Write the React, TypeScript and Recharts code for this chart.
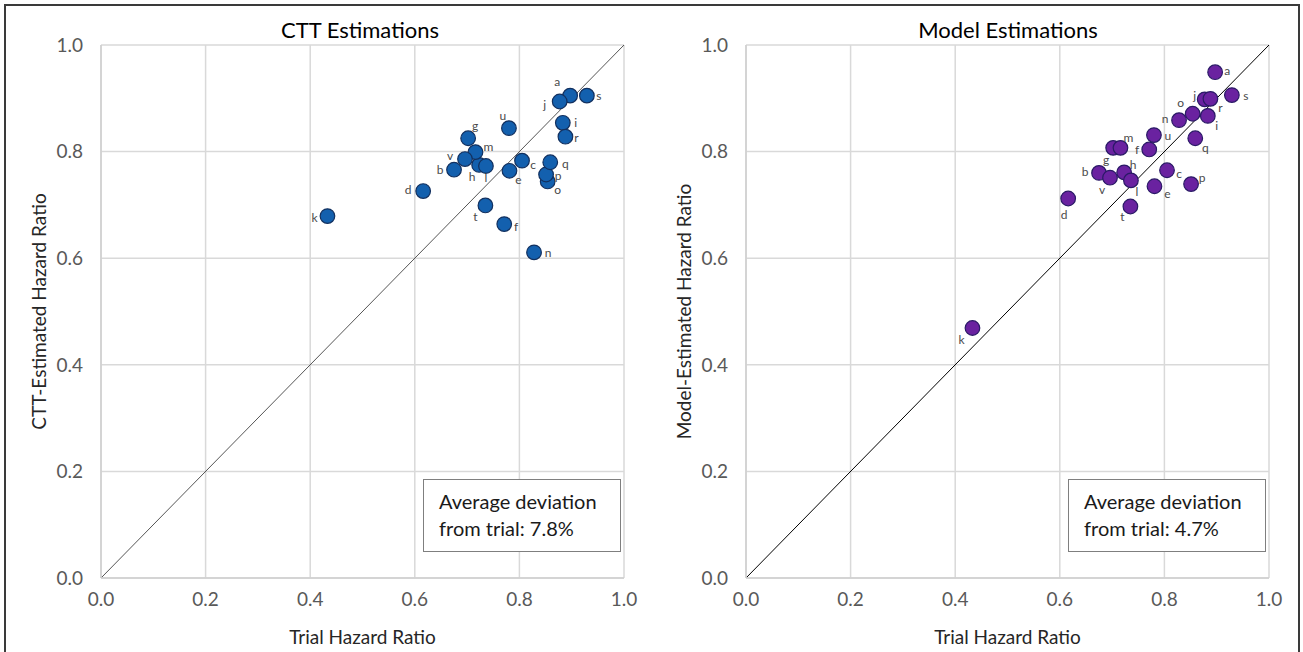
import React from 'react';
import { ScatterChart, Scatter, XAxis, YAxis, CartesianGrid, ReferenceLine } from 'recharts';

const studyLabels = ['a','b','c','d','e','f','g','h','i','j','k','l','m','n','o','p','q','r','s','t','u','v'];
const trialHR = [0.897,0.675,0.805,0.616,0.781,0.771,0.702,0.723,0.883,0.877,0.433,0.736,0.716,0.828,0.854,0.851,0.859,0.888,0.929,0.735,0.780,0.696];
const cttHR = [0.905,0.766,0.783,0.726,0.764,0.664,0.825,0.775,0.854,0.894,0.679,0.773,0.799,0.611,0.744,0.757,0.780,0.828,0.905,0.699,0.844,0.786];
const modelHR = [0.949,0.760,0.765,0.712,0.735,0.804,0.807,0.761,0.867,0.898,0.469,0.746,0.807,0.859,0.871,0.739,0.825,0.899,0.906,0.697,0.831,0.751];
const axisTicks = [0, 0.2, 0.4, 0.6, 0.8, 1.0];
const chartTitles = ['CTT Estimations', 'Model Estimations'];
const yTitles = ['CTT-Estimated Hazard Ratio', 'Model-Estimated Hazard Ratio'];
const xTitle = 'Trial Hazard Ratio';
const deviationNotes = [['Average deviation', 'from trial: 7.8%'], ['Average deviation', 'from trial: 4.7%']];

// label placement (pixel offsets from point centre) — styling, not data
const cttLabelOffsets: Record<string, [number, number]> = {
  a: [-13, -14], b: [-14, 0], c: [11, 4], d: [-15, -2], e: [9, 9], f: [12, 2], g: [7, -13], h: [-7, 12],
  i: [13, 0], j: [-15, 3], k: [-13, 1], l: [0, 12], m: [13, -6], n: [14, 0], o: [10, 8], p: [12, 1],
  q: [15, 1], r: [11, 1], s: [12, 0], t: [-10, 11], u: [-6, -13], v: [-15, -4],
};
const modelLabelOffsets: Record<string, [number, number]> = {
  a: [12, -2], b: [-14, -1], c: [12, 3], d: [-4, 16], e: [13, 7], f: [-12, 0], g: [-7, 12], h: [9, -8],
  i: [9, 10], j: [-10, -4], k: [-11, 11], l: [6, 11], m: [8, -10], n: [-14, -2], o: [-12, -11], p: [11, -7],
  q: [10, 9], r: [10, 9], s: [14, 0], t: [-8, 10], u: [14, 0], v: [-8, 12],
};

const FONT = 'Lato, "Open Sans", sans-serif';

const cttData = studyLabels.map((name, i) => ({ name, x: trialHR[i], y: cttHR[i] }));
const modelData = studyLabels.map((name, i) => ({ name, x: trialHR[i], y: modelHR[i] }));

const circleShape = (fill: string, stroke: string) => (props: any) => {
  const { cx, cy } = props;
  if (cx == null || cy == null) return <g />;
  return <circle cx={cx} cy={cy} r={7.3} fill={fill} stroke={stroke} strokeWidth={1.2} />;
};

const labelShape = (offsets: Record<string, [number, number]>) => (props: any) => {
  const { cx, cy, payload } = props;
  if (cx == null || cy == null) return <g />;
  const off = offsets[payload.name] || [10, 0];
  return (
    <text x={cx + off[0]} y={cy + off[1]} textAnchor="middle" dominantBaseline="central"
      fontSize={12} fontFamily={FONT} fill="#4a4a4a">{payload.name}</text>
  );
};

const W = 650;
const H = 652;

function Panel({ data, offsets, fill, stroke, idx, lineColor }: any) {
  return (
    <ScatterChart width={W} height={H} margin={{ top: 45, right: 26, bottom: 0, left: 0 }}>
      <CartesianGrid stroke="#d9d9d9" strokeWidth={1.5} horizontalValues={axisTicks} verticalValues={axisTicks} />
      <XAxis type="number" dataKey="x" domain={[0, 1]} ticks={axisTicks} height={74}
        tickFormatter={(v: number) => v.toFixed(1)} tickLine={false} tickSize={0} tickMargin={15}
        axisLine={{ stroke: '#cfcfcf', strokeWidth: 1.5 }}
        tick={{ fill: '#595959', fontSize: 19, fontFamily: FONT }}
        label={(p: any) => {
          const vb = p.viewBox || { x: 101, y: 578, width: 523, height: 74 };
          return <text x={vb.x + vb.width / 2} y={636} textAnchor="middle" dominantBaseline="central"
            fontSize={19} fontFamily={FONT} fill="#262626">{xTitle}</text>;
        }} />
      <YAxis type="number" dataKey="y" domain={[0, 1]} ticks={axisTicks} width={101}
        tickFormatter={(v: number) => v.toFixed(1)} tickLine={false} tickSize={0} tickMargin={18}
        axisLine={{ stroke: '#cfcfcf', strokeWidth: 1.5 }}
        tick={{ fill: '#595959', fontSize: 19, fontFamily: FONT }}
        label={(p: any) => {
          const vb = p.viewBox || { x: 0, y: 45, width: 101, height: 533 };
          const cy = vb.y + vb.height / 2;
          return <text x={38} y={cy} transform={`rotate(-90 38 ${cy})`} textAnchor="middle" dominantBaseline="central"
            fontSize={19} fontFamily={FONT} fill="#262626">{yTitles[idx]}</text>;
        }} />
      <ReferenceLine segment={[{ x: 0, y: 0 }, { x: 1, y: 1 }]} stroke={lineColor} strokeWidth={1} />
      <Scatter data={data} isAnimationActive={false} shape={circleShape(fill, stroke)} />
      <Scatter data={data} isAnimationActive={false} shape={labelShape(offsets)} />
    </ScatterChart>
  );
}

function NoteBox({ left, lines }: any) {
  return (
    <div style={{
      position: 'absolute', left, top: 479, width: 198, height: 73, boxSizing: 'border-box',
      border: '1px solid #7f7f7f', background: '#fff', fontFamily: FONT, fontSize: 20, color: '#1a1a1a',
      padding: '8px 0 0 15px', lineHeight: '27px',
    }}>
      <div>{lines[0]}</div>
      <div>{lines[1]}</div>
    </div>
  );
}

function Title({ center, text }: any) {
  return (
    <div style={{
      position: 'absolute', left: center - 200, width: 400, top: 16, textAlign: 'center',
      fontFamily: FONT, fontSize: 22, color: '#000', lineHeight: '28px',
    }}>{text}</div>
  );
}

export default function App() {
  return (
    <div style={{ position: 'absolute', left: 0, top: 0, width: 1303, height: 652, overflow: 'hidden', background: '#fff' }}>
      <div style={{ position: 'absolute', left: 0, top: 0 }}>
        <Panel data={cttData} offsets={cttLabelOffsets} fill="#1360AE" stroke="#12305F" idx={0} lineColor="#555" />
      </div>
      <div style={{ position: 'absolute', left: 645, top: 0 }}>
        <Panel data={modelData} offsets={modelLabelOffsets} fill="#6A22A0" stroke="#2A1A66" idx={1} lineColor="#000" />
      </div>
      <Title center={360} text={chartTitles[0]} />
      <Title center={1008} text={chartTitles[1]} />
      <NoteBox left={423} lines={deviationNotes[0]} />
      <NoteBox left={1068} lines={deviationNotes[1]} />
      <div style={{
        position: 'absolute', left: 4, top: 4, width: 1296, height: 660, boxSizing: 'border-box',
        border: '2px solid #3a3a3a', pointerEvents: 'none',
      }} />
    </div>
  );
}
